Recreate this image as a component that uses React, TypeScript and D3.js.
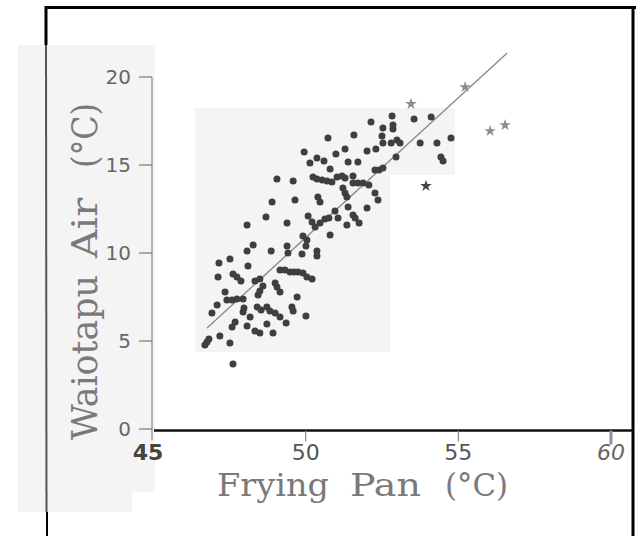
import React from "react";
import * as d3 from "d3";

// Frying Pan temperature (°C) vs Waiotapu Air temperature (°C)
const fryingPan = [
  52.83, 52.14, 52.53, 52.86, 52.86, 51.58, 50.73, 52.5, 52.53, 52.8, 52.99, 53.09, 51.29, 50.99, 52.01, 52.3,
  49.95, 50.37, 50.14, 50.6, 51.39, 51.71, 52.96, 50.8, 49.06, 49.59, 50.24, 50.37, 50.54, 50.7, 50.86, 51.03,
  51.19, 51.29, 51.55, 51.55, 51.71, 51.88, 52.07, 52.27, 52.4, 52.53, 51.22, 51.29, 51.35, 52.27, 52.37, 50.4,
  50.47, 48.9, 49.65, 52.01, 51.39, 51.55, 51.62, 50.96, 48.7, 49.39, 48.08, 50.08, 50.21, 50.31, 50.47, 50.63,
  50.76, 51.06, 51.35, 51.75, 53.55, 54.11, 53.75, 54.3, 54.76, 54.43, 54.5, 50.8, 49.91, 50.04, 50.01, 49.88,
  50.37, 50.37, 48.28, 48.08, 48.87, 49.39, 49.42, 47.16, 47.52, 48.11, 47.62, 47.75, 47.88, 47.13, 48.34, 48.5,
  49.16, 49.32, 49.49, 49.62, 49.75, 49.91, 50.04, 50.21, 47.36, 47.42, 47.59, 47.75, 47.95, 48.6, 48.5, 48.44,
  49.06, 49.16, 49.0, 49.72, 47.1, 47.98, 47.95, 46.93, 48.41, 48.54, 48.73, 48.83, 49.0, 49.16, 49.55, 49.59,
  50.01, 48.18, 47.69, 47.59, 48.08, 48.73, 49.36, 48.34, 48.5, 48.93, 47.19, 46.83, 46.77, 46.7, 47.52, 47.62,
];
const waiotapuAir = [
  17.78, 17.44, 17.1, 17.27, 17.05, 16.7, 16.53, 16.65, 16.25, 16.25, 16.42, 16.25, 15.91, 15.63, 15.8, 15.91,
  15.74, 15.4, 15.11, 15.23, 15.17, 15.17, 15.45, 14.77, 14.2, 14.09, 14.32, 14.2, 14.15, 14.09, 14.03, 14.32,
  14.38, 14.26, 14.38, 13.98, 13.98, 13.98, 13.86, 14.72, 14.72, 14.83, 13.69, 13.41, 13.18, 13.41, 13.01, 13.18,
  12.9, 12.9, 13.01, 12.56, 12.61, 12.16, 11.99, 12.39, 12.05, 11.7, 11.59, 12.1, 11.76, 11.48, 11.7, 11.93,
  11.99, 11.99, 11.59, 11.7, 17.61, 17.73, 16.25, 16.25, 16.53, 15.45, 15.23, 11.02, 10.97, 10.74, 10.4, 9.94,
  10.11, 9.83, 10.45, 10.11, 10.11, 10.4, 10.0, 9.43, 9.66, 9.26, 8.81, 8.64, 8.41, 8.64, 8.41, 8.52,
  9.03, 9.03, 8.92, 8.92, 8.92, 8.86, 8.64, 8.52, 7.78, 7.33, 7.33, 7.39, 7.39, 8.13, 7.84, 7.61,
  8.07, 7.78, 8.3, 7.5, 7.05, 6.88, 6.65, 6.59, 6.93, 6.76, 6.93, 6.7, 6.59, 6.36, 6.93, 6.7,
  6.42, 6.36, 6.08, 5.8, 5.85, 5.97, 6.02, 5.57, 5.45, 5.45, 5.28, 5.11, 4.94, 4.77, 4.89, 3.69,
];
// light-grey starred observations
const outlierPan = [53.45, 55.22, 56.04, 56.53];
const outlierAir = [18.47, 19.43, 16.93, 17.27];
// dark starred observation
const flaggedPan = [53.94];
const flaggedAir = [13.81];
// fitted regression line end points
const fitPan = [46.77, 56.6];
const fitAir = [5.74, 21.36];

const xTicks = [45, 50, 55, 60];
const yTicks = [0, 5, 10, 15, 20];
const xTitleWords = ["Frying", "Pan", "(°C)"];
const yTitleWords = ["Waiotapu", "Air", "(°C)"];
const xTickStyles = [
  { weight: "bold", style: "normal", color: "#444" },
  { weight: "normal", style: "normal", color: "#555" },
  { weight: "normal", style: "normal", color: "#555" },
  { weight: "normal", style: "italic", color: "#666" },
];

// word boxes for the titles (start, end in px)
const xWordSpans = [[217, 329], [350, 421], [445, 508]];
const yWordSpans = [[440, 275], [258, 198], [168, 103]];

export default function App() {
  const W = 636;
  const H = 536;
  const x = d3.scaleLinear().domain([45, 60]).range([153, 611]);
  const y = d3.scaleLinear().domain([0, 20]).range([429, 77]);

  const points = fryingPan.map((v, i) => [x(v), y(waiotapuAir[i])]);
  const star = d3.symbol().type(d3.symbolStar).size(42)();
  const fitLine = d3.line<number>()
    .x((d, i) => x(fitPan[i]))
    .y((d, i) => y(fitAir[i]))(fitPan);

  const axisY = y(0) + 1.5;
  const yAxisX = x(45) - 1;

  return (
    <svg width={W} height={H} style={{ position: "absolute", left: 0, top: 0, background: "#fff" }}>
      <rect x={0} y={0} width={W} height={H} fill="#fff" />
      {/* scan shading patches */}
      <rect x={18} y={45} width={137} height={447} fill="#f4f4f4" />
      <rect x={18} y={490} width={114} height={22} fill="#f4f4f4" />
      <rect x={195} y={108} width={195} height={244} fill="#f4f4f4" />
      <rect x={390} y={108} width={65} height={67} fill="#f4f4f4" />

      {/* frame */}
      <line x1={45} y1={7.5} x2={W} y2={7.5} stroke="#000" strokeWidth={3} />
      <line x1={46} y1={6} x2={46} y2={45} stroke="#000" strokeWidth={3} />
      <line x1={46} y1={45} x2={46.5} y2={512} stroke="#555" strokeWidth={2} />
      <line x1={47} y1={512} x2={47} y2={H} stroke="#000" strokeWidth={2} />
      <line x1={633} y1={6} x2={633} y2={H} stroke="#000" strokeWidth={3} />

      {/* y axis */}
      <line x1={yAxisX} y1={y(20)} x2={yAxisX} y2={axisY + 10} stroke="#777" strokeWidth={1} />
      {yTicks.map((t) => (
        <g key={t}>
          <line x1={yAxisX - 13} x2={yAxisX} y1={y(t)} y2={y(t)} stroke="#777" strokeWidth={1.2} />
          <text
            x={131}
            y={y(t)}
            dy="0.36em"
            textAnchor="end"
            fontFamily="DejaVu Sans"
            fontSize={20}
            fill="#666"
          >
            {t}
          </text>
        </g>
      ))}

      {/* x axis */}
      <line x1={yAxisX + 2} y1={axisY} x2={633} y2={axisY} stroke="#111" strokeWidth={2.5} />
      {xTicks.map((t, i) =>
        i === 0 ? null : (
          <line
            key={t}
            x1={x(t)}
            x2={x(t)}
            y1={axisY}
            y2={axisY + (i === 3 ? 14 : 11)}
            stroke={i === 3 ? "#9a8aa2" : "#888"}
            strokeWidth={i === 3 ? 3 : 1.2}
          />
        )
      )}
      {xTicks.map((t, i) => (
        <text
          key={"l" + t}
          x={x(t) + (i === 0 ? -5 : 0)}
          y={460}
          textAnchor="middle"
          fontFamily="DejaVu Sans"
          fontSize={22}
          fontWeight={xTickStyles[i].weight}
          fontStyle={xTickStyles[i].style}
          fill={xTickStyles[i].color}
        >
          {t}
        </text>
      ))}

      {/* axis titles */}
      {xTitleWords.map((w, i) => (
        <text
          key={"xt" + i}
          x={xWordSpans[i][0]}
          y={496}
          fontFamily="DejaVu Serif"
          fontSize={32}
          fill="#7a7a7a"
          textLength={xWordSpans[i][1] - xWordSpans[i][0]}
          lengthAdjust="spacingAndGlyphs"
        >
          {w}
        </text>
      ))}
      {yTitleWords.map((w, i) => (
        <text
          key={"yt" + i}
          transform={`translate(97, ${yWordSpans[i][0]}) rotate(-90)`}
          x={0}
          y={0}
          fontFamily="DejaVu Serif"
          fontSize={35}
          fill="#7a7a7a"
          textLength={yWordSpans[i][0] - yWordSpans[i][1]}
          lengthAdjust="spacingAndGlyphs"
        >
          {w}
        </text>
      ))}

      {/* regression line */}
      <path d={fitLine || ""} fill="none" stroke="#8a8a8a" strokeWidth={1.4} />

      {/* observations */}
      {points.map(([cx, cy], i) => (
        <circle key={i} cx={cx} cy={cy} r={3.5} fill="#3f3f3f" />
      ))}
      {outlierPan.map((v, i) => (
        <path key={"o" + i} d={star || ""} transform={`translate(${x(v)},${y(outlierAir[i])})`} fill="#8c8c8c" />
      ))}
      {flaggedPan.map((v, i) => (
        <path key={"f" + i} d={star || ""} transform={`translate(${x(v)},${y(flaggedAir[i])})`} fill="#444" />
      ))}
    </svg>
  );
}
